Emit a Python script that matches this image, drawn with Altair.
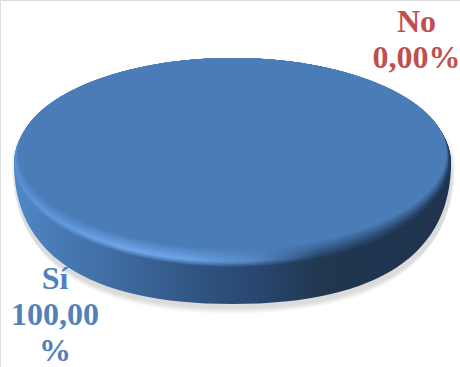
import altair as alt
import pandas as pd

# Survey answers and their shares
categories = ["Sí", "No"]
shares = [100.0, 0.0]
label_colors = ["#4F81BD", "#C0504D"]

W, H = 460, 367
CX, CY = 232.5, 163.0
RX, RY = 218.5, 105.0
BOTTOM = 141.0  # lowest point of the wall, below the disc centre
FONT = "Liberation Serif"

FACE = "#4A7CB8"
WALL = [(0, "#5088C8"), (0.08, "#4A7CB8"), (0.25, "#3E6A9E"), (0.4, "#315684"),
        (0.55, "#294770"), (0.7, "#203750"), (1, "#1F334E")]
RIM = [(0, "#5A92D6"), (0.1, "#609ADE"), (0.25, "#70A8EC"), (0.4, "#6CA4E8"),
       (0.55, "#5587C4"), (0.7, "#2E5078"), (1, "#22395A")]


def hex_rgb(c):
    return [int(c[i:i + 2], 16) for i in (1, 3, 5)]


def mix(a, b, t):
    return "#%02X%02X%02X" % tuple(round(x + (y - x) * t) for x, y in zip(hex_rgb(a), hex_rgb(b)))


def gradient(stops):
    return alt.Gradient(gradient="linear", x1=0, x2=1, y1=0, y2=0,
                        stops=[alt.GradientStop(offset=o, color=c) for o, c in stops])


def ellipse_path(rx, ry, cy=0.0):
    return (f"M{-rx:.4f},{cy:.4f} A{rx:.4f},{ry:.4f} 0 1 1 {rx:.4f},{cy:.4f} "
            f"A{rx:.4f},{ry:.4f} 0 1 1 {-rx:.4f},{cy:.4f} Z")


def body_path():
    # back half is the disc edge; front half bulges out as a single curve
    ry = RY / RX
    b = BOTTOM / RX
    k1 = 88 / RX
    k2 = 150 / RX
    return (f"M-1,0 A1,{ry:.4f} 0 0 1 1,0 "
            f"C1,{k1:.4f} {k2:.4f},{b:.4f} 0,{b:.4f} "
            f"C{-k2:.4f},{b:.4f} -1,{k1:.4f} -1,0 Z")


def disc(path, fill, size=(2 * RX) ** 2, dx=0.0, dy=0.0, opacity=1.0):
    """One layer of the pie, scaled from its unit-radius path."""
    return alt.Chart(slices).mark_point(
        shape=path, filled=True, color=fill, opacity=opacity, strokeWidth=0
    ).encode(x=alt.value(CX + dx), y=alt.value(CY + dy), size=alt.value(size))


table = pd.DataFrame({"category": categories, "share": shares})
slices = table[table["share"] > 0]

ry = RY / RX
layers = []

# soft drop shadow under the disc
for i in range(12):
    grow = 1 + 0.0016 * i
    layers.append(disc(body_path(), "#000000", size=(2 * RX * grow) ** 2,
                       dx=1, dy=10 - i * 0.75, opacity=0.012))

# outer wall of the disc
layers.append(disc(body_path(), gradient(WALL)))

# bevelled top: nested ellipses sharing the back edge, fading into the face
steps = 14
band = 19.0 / RX
for k in range(steps + 1):
    t = k / steps
    shift = band * t
    stops = []
    for (o, rim), (_, wall) in zip(RIM, WALL):
        if t < 0.3:
            stops.append((o, mix(wall, rim, t / 0.3)))
        else:
            stops.append((o, mix(rim, FACE, (t - 0.3) / 0.7)))
    layers.append(disc(ellipse_path(1 - 0.02 * t, ry - shift / 2, -shift / 2), gradient(stops)))

# value labels, each wrapped the way it fits beside the disc
label_x = [55, 416.5]
label_y = [278.5, 21.5]
for name, share, color, x, y in zip(categories, shares, label_colors, label_x, label_y):
    value = f"{share:.2f}".replace(".", ",")
    text = f"{name}\n{value}\n%" if share >= 100 else f"{name}\n{value}%"
    layers.append(
        alt.Chart(pd.DataFrame({"text": [text]})).mark_text(
            font=FONT, fontSize=32, fontWeight="bold", align="center", baseline="middle",
            lineBreak="\n", lineHeight=36, color=color
        ).encode(x=alt.value(x), y=alt.value(y), text="text:N")
    )

chart = alt.layer(*layers).properties(
    width=W, height=H, padding=0, autosize=alt.AutoSizeParams(type="none")
).configure_view(stroke=None).configure(background="white")

chart.save("out.html", embed_options={"renderer": "svg", "actions": False})
